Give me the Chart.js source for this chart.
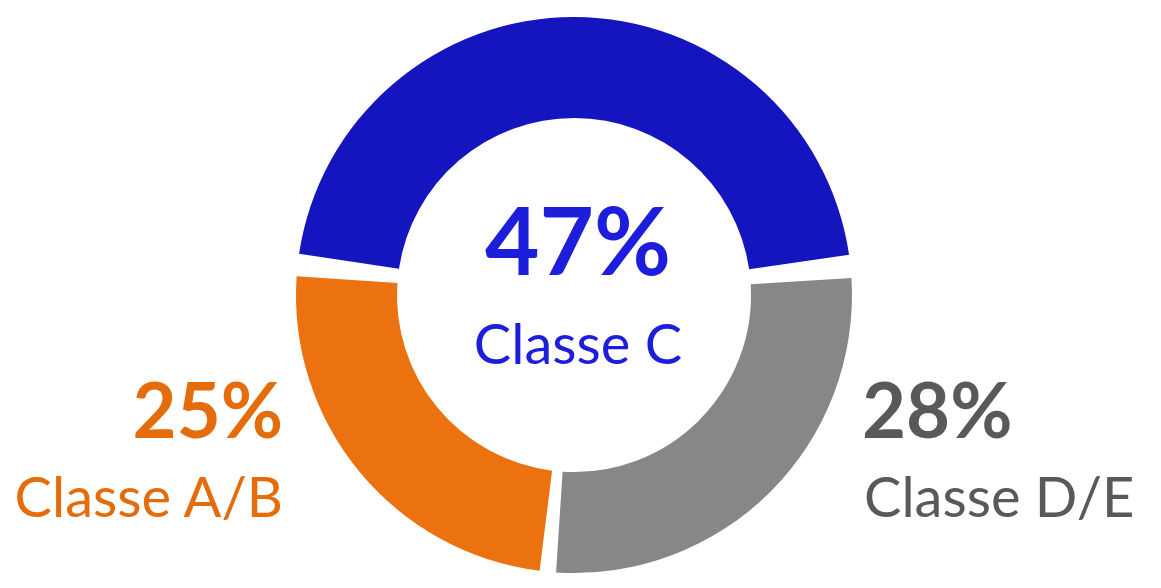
<!DOCTYPE html>
<html>
<head>
<meta charset="utf-8">
<script src="https://cdn.jsdelivr.net/npm/chart.js@4"></script>
<style>
  html, body { margin: 0; padding: 0; background: #fff; }
  #wrap { position: relative; width: 1161px; height: 588px; overflow: hidden; }
  #chart { position: absolute; left: 0; top: 0; }
  .lbl { position: absolute; font-family: Lato, sans-serif; line-height: 1; white-space: nowrap; }
  .pct { font-weight: bold; }
</style>
</head>
<body>
<div id="wrap">
  <canvas id="chart" width="1161" height="588"></canvas>
  <div class="lbl pct" id="pctC" style="left:378px; width:400px; text-align:center; top:192px; font-size:94px;"></div>
  <div class="lbl" id="nameC" style="left:378px; width:400px; text-align:center; top:315px; font-size:56px;"></div>
  <div class="lbl pct" id="pctAB" style="right:878px; top:371px; font-size:76px;"></div>
  <div class="lbl" id="nameAB" style="right:878px; top:468px; font-size:56px;"></div>
  <div class="lbl pct" id="pctDE" style="left:862px; top:371px; font-size:76px;"></div>
  <div class="lbl" id="nameDE" style="left:864px; top:468px; font-size:56px;"></div>
</div>
<script>
// slices in clockwise order, starting at the left (9 o'clock)
const classes = ['Classe C', 'Classe D/E', 'Classe A/B'];
const shares = [47, 28, 25];
const sliceColors = ['#1515bf', '#878787', '#ec720f'];
const textColors = ['#1d1ddc', '#595959', '#e46c0a'];
const labelIds = ['C', 'DE', 'AB'];

window.onload = function () {
    // fill the text labels around the ring
    classes.forEach(function (name, i) {
        const pct = document.getElementById('pct' + labelIds[i]);
        const nm = document.getElementById('name' + labelIds[i]);
        pct.textContent = shares[i] + '%';
        nm.textContent = name;
        pct.style.color = textColors[i];
        nm.style.color = textColors[i];
    });

    const ctx = document.getElementById('chart').getContext('2d');
    new Chart(ctx, {
        type: 'doughnut',
        data: {
            labels: classes,
            datasets: [{
                data: shares,
                backgroundColor: sliceColors,
                borderWidth: 0,
                spacing: 16
            }]
        },
        options: {
            responsive: false,
            animation: false,
            cutout: '62.6%',
            rotation: -84.5,
            layout: {
                padding: { left: 296, right: 309, top: 17, bottom: 15 }
            },
            plugins: {
                legend: { display: false },
                tooltip: { enabled: false }
            }
        }
    });
};
</script>
</body>
</html>
